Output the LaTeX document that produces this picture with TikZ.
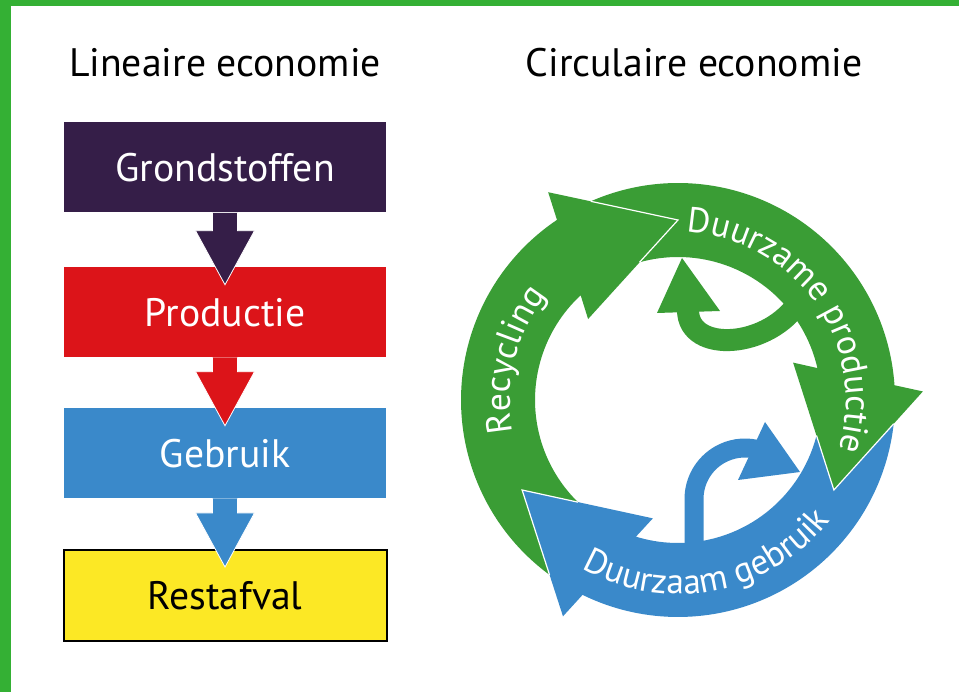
\documentclass[tikz,border=0pt]{standalone}
\usepackage{fontspec}
\setmainfont{PT Sans}
\usepackage{tikz}
\usetikzlibrary{decorations.text}
\definecolor{rand}{RGB}{52,176,52}
\definecolor{paars}{RGB}{53,30,72}
\definecolor{rood}{RGB}{220,20,25}
\definecolor{blauw}{RGB}{58,137,202}
\definecolor{geel}{RGB}{252,232,37}
\definecolor{ringgroen}{RGB}{58,157,53}

\tikzset{
	titel/.style={font=\fontsize{29.8}{31}\selectfont, inner sep=0pt, anchor=base},
	blok/.style={minimum width=241.5pt, minimum height=67.5pt, inner sep=0pt, text depth=0pt, text=white, font=\fontsize{29.8}{31}\selectfont},
	blokpijl/.style={fill=#1, draw=white, line width=0.6pt, to path={
		([xshift=-9.4pt]\tikztostart.south) -- ([xshift=-9.4pt,yshift=27pt]\tikztotarget.north)
		-- ([xshift=-22.1pt,yshift=27pt]\tikztotarget.north) -- ([yshift=-13.5pt]\tikztotarget.north)
		-- ([xshift=22.1pt,yshift=27pt]\tikztotarget.north) -- ([xshift=9.4pt,yshift=27pt]\tikztotarget.north)
		-- ([xshift=9.4pt]\tikztostart.south)}},
	ringtekst/.style={decorate, decoration={text along path, text align=center, text color=white,
		text={|\fontsize{26.5}{28}\selectfont|#1}}}
}

\begin{document}
\begin{tikzpicture}[x=0.75pt, y=0.75pt]
			\useasboundingbox (0,0) rectangle (959,692);
			\fill[rand] (0,0) rectangle (959,692);
			\fill[white] (11,0) rectangle (959,686);

			% lineaire economie
			\node[titel] (lineair) at (225,615) {Lineaire economie};
			\node[blok, fill=paars] (grond) at (225,524.5) {Grondstoffen};
			\node[blok, fill=rood] (prod) at (225,380) {Productie};
			\node[blok, fill=blauw] (gebruik) at (225,239) {Gebruik};
			\node[blok, fill=geel, draw=black, line width=1.5pt, text=black, minimum width=242.25pt, minimum height=68.25pt] (afval) at (225,96.5) {Restafval};
			\draw[blokpijl=paars] (grond) to (prod);
			\draw[blokpijl=rood] (prod) to (gebruik);
			\draw[blokpijl=blauw] (gebruik) to (afval);

			% circulaire economie
			\node[titel] (circulair) at (694,615) {Circulaire economie};
			\begin{scope}[shift={(678,292)}]
				\foreach \tip/\kleur in {90/ringgroen, -30/ringgroen, 210/blauw} {
					\pgfmathsetmacro{\vorig}{\tip+120}
					\fill[\kleur] (\vorig+23.7:217) arc[start angle=\vorig+23.7, end angle=\tip+33.9, radius=217]
						-- (\tip+32:245) -- (\tip:180) -- (\tip+48:121) -- (\tip+42.9:143)
						arc[start angle=\tip+42.9, end angle=\vorig+15.6, radius=143] -- (\vorig:180) -- cycle;
				}
				\foreach \tip in {90, -30, 210}
					\draw[white, line width=0.9pt] (\tip+23.7:217) -- (\tip:180) -- (\tip+15.6:143);
			\end{scope}

			\draw[ringgroen, line width=16.5pt] (800,392) .. controls (770,343) and (688,338) .. (688,382);
			\fill[ringgroen] (657,379) -- (682,434) -- (720,381) -- cycle;
			\draw[blauw, line width=14.25pt] (694,140) -- (694,193) arc[start angle=180, end angle=78, radius=51];
			\fill[blauw] (765,270) -- (800,220) -- (738,212) -- cycle;

			\begin{scope}[shift={(678,292)}]
				\path[ringtekst={Recycling}] (211.3:168) arc[start angle=211.3, end angle=121.3, radius=168];
				\path[ringtekst={Duurzame productie}] (109.9:168) arc[start angle=109.9, end angle=-40.1, radius=168];
				\path[ringtekst={Duurzaam gebruik}] (211:194) arc[start angle=211, end angle=351, radius=194];
			\end{scope}
\end{tikzpicture}
\end{document}
